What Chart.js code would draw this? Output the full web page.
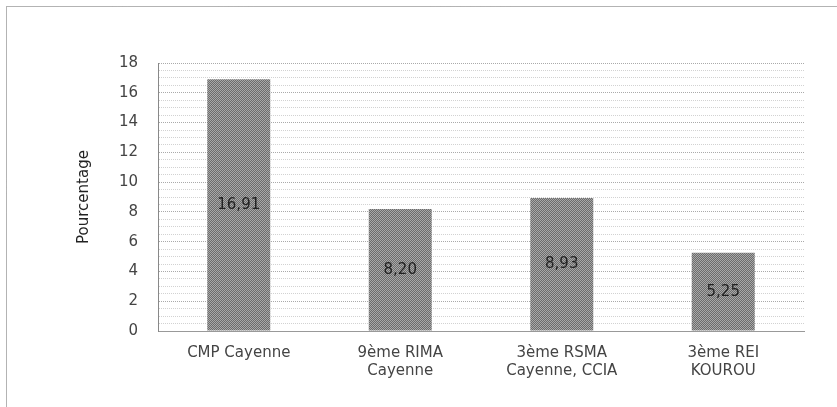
<!DOCTYPE html>
<html>
<head>
<meta charset="utf-8">
<script src="https://cdn.jsdelivr.net/npm/chart.js@4.4.1/dist/chart.umd.min.js"></script>
<style>
  html, body { margin: 0; padding: 0; background: #fff; }
  #wrap { width: 837px; height: 407px; position: relative; }
</style>
</head>
<body>
<div id="wrap"><canvas id="chart" width="837" height="407"></canvas></div>
<script>
const categories = [
  ['CMP Cayenne'],
  ['9ème RIMA', 'Cayenne'],
  ['3ème RSMA', 'Cayenne, CCIA'],
  ['3ème REI', 'KOUROU']
];
const values = [16.91, 8.20, 8.93, 5.25];
const yTicks = [0, 2, 4, 6, 8, 10, 12, 14, 16, 18];
const yTitle = 'Pourcentage';

// dithered grey like the scanned bars
function barPattern() {
  const c = document.createElement('canvas');
  c.width = 2; c.height = 2;
  const g = c.getContext('2d');
  g.fillStyle = '#6c6c6c'; g.fillRect(0, 0, 2, 2);
  g.fillStyle = '#a8a8a8'; g.fillRect(0, 0, 1, 1); g.fillRect(1, 1, 1, 1);
  return g.createPattern(c, 'repeat');
}

const frame = {
  id: 'frame',
  beforeDraw(chart) {
    const ctx = chart.ctx;
    ctx.save();
    ctx.fillStyle = '#fff';
    ctx.fillRect(0, 0, chart.width, chart.height);
    ctx.strokeStyle = '#666';
    ctx.setLineDash([1, 1]);
    ctx.lineWidth = 1;
    ctx.strokeRect(6.5, 6.5, chart.width + 20, chart.height + 20);
    ctx.restore();
  }
};

const barValues = {
  id: 'barValues',
  afterDatasetsDraw(chart) {
    const ctx = chart.ctx;
    const meta = chart.getDatasetMeta(0);
    ctx.save();
    ctx.font = '15px "DejaVu Sans"';
    ctx.fillStyle = '#222';
    ctx.textAlign = 'center';
    ctx.textBaseline = 'middle';
    meta.data.forEach((bar, i) => {
      const txt = values[i].toFixed(2).replace('.', ',');
      ctx.fillText(txt, bar.x, (bar.y + bar.base) / 2);
    });
    ctx.restore();
  }
};

new Chart(document.getElementById('chart'), {
  type: 'bar',
  data: {
    labels: categories,
    datasets: [{
      data: values,
      backgroundColor: barPattern(),
      borderWidth: 0,
      categoryPercentage: 1,
      barPercentage: 0.39
    }]
  },
  options: {
    responsive: false,
    animation: false,
    devicePixelRatio: 1,
    layout: { padding: { left: 0, right: 33, top: 63, bottom: 0 } },
    plugins: { legend: { display: false }, tooltip: { enabled: false } },
    scales: {
      x: {
        grid: { display: false, drawTicks: false },
        border: { display: true, color: '#999', dash: [1, 1] },
        ticks: { color: '#444', font: { family: 'DejaVu Sans', size: 15 }, padding: 13, maxRotation: 0, autoSkip: false },
        afterFit(scale) { scale.height = 76; }
      },
      y: {
        min: 0,
        max: 18,
        ticks: {
          stepSize: 0.5,
          autoSkip: false,
          color: '#444',
          padding: 20,
          font: { family: 'DejaVu Sans', size: 15 },
          callback: v => yTicks.includes(v) ? String(v) : ''
        },
        grid: {
          drawTicks: false,
          color: ctx => (ctx.tick && ctx.tick.value % 2 === 0) ? '#aaa' : '#d2d2d2',
          lineWidth: 1
        },
        border: { display: true, color: '#888', dash: [1, 1] },
        title: {
          display: true,
          text: yTitle,
          color: '#222',
          font: { family: 'DejaVu Sans', size: 15 },
          padding: { top: 75, bottom: 0 }
        },
        afterFit(scale) { scale.width = 158; }
      }
    }
  },
  plugins: [frame, barValues]
});
</script>
</body>
</html>
